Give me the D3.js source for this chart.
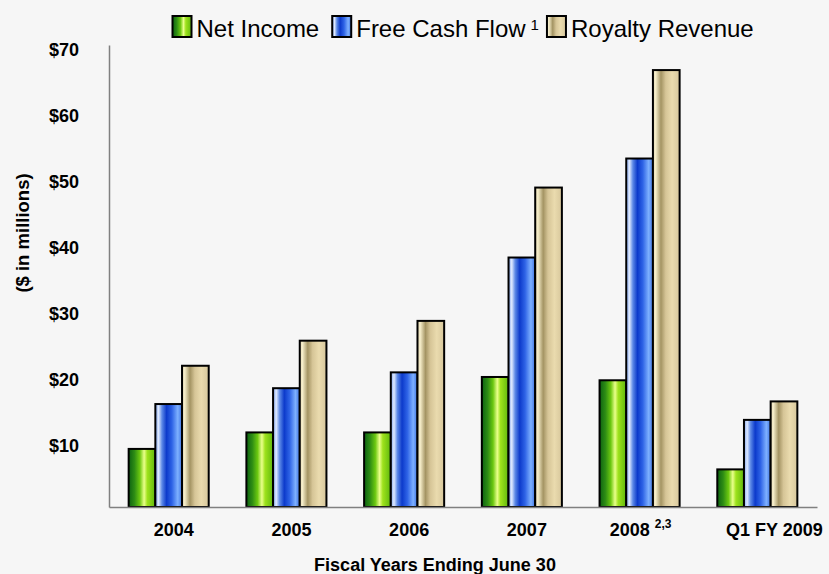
<!DOCTYPE html>
<html>
<head>
<meta charset="utf-8">
<script src="https://cdn.jsdelivr.net/npm/d3@7"></script>
<style>
  html, body { margin: 0; padding: 0; background: #f6f6f6; }
  svg { display: block; font-family: "Liberation Sans", Arial, sans-serif; }
</style>
</head>
<body>
<svg id="chart" width="829" height="574"></svg>
<script>
// dados ($ milhões)
var anos = ["2004", "2005", "2006", "2007", "2008", "Q1 FY 2009"];
var notas = ["", "", "", "", "2,3", ""];
var series = ["Net Income", "Free Cash Flow", "Royalty Revenue"];
var notasSerie = ["", "1", ""];
var netIncome = [8.8, 11.3, 11.3, 19.7, 19.2, 5.7];
var freeCashFlow = [15.6, 18.0, 20.4, 37.8, 52.8, 13.2];
var royaltyRevenue = [21.4, 25.2, 28.2, 48.4, 66.2, 16.0];
var yTicks = [10, 20, 30, 40, 50, 60, 70];

var valores = [netIncome, freeCashFlow, royaltyRevenue];
var dados = anos.map((a, i) => ({ano: a, nota: notas[i], vals: series.map((s, j) => ({serie: s, v: valores[j][i]}))}));

var svg = d3.select("#chart");

// gradientes "cilíndricos" das barras
var grads = {
  "Net Income": [[0, "#0d6212"], [0.22, "#2e8d14"], [0.42, "#6cc810"], [0.58, "#eaff8a"], [0.7, "#9ee21c"], [1, "#5fb80c"]],
  "Free Cash Flow": [[0, "#7ea2ec"], [0.12, "#dfeaff"], [0.25, "#5b88e6"], [0.42, "#0c3acb"], [0.62, "#2e63e6"], [0.84, "#7db0ff"], [1, "#3d72e2"]],
  "Royalty Revenue": [[0, "#e4d8b2"], [0.1, "#f6eecb"], [0.3, "#a49463"], [0.48, "#d6c597"], [0.72, "#eadbae"], [1, "#d7c79c"]]
};
var defs = svg.append("defs");
series.forEach((s, i) => {
  var g = defs.append("linearGradient").attr("id", "g" + i)
    .attr("x1", 0).attr("x2", 1).attr("y1", 0).attr("y2", 0);
  g.selectAll("stop").data(grads[s]).enter().append("stop")
    .attr("offset", d => d[0]).attr("stop-color", d => d[1]);
});

var x0 = d3.scaleBand().domain(anos).range([109, 817]).paddingInner(0.32).paddingOuter(0.167);
var x1 = d3.scaleBand().domain(series).range([0, x0.bandwidth()]);
var y = d3.scaleLinear().domain([0, 70]).range([507, 45]);

// barras
svg.append("g").selectAll("g")
  .data(dados)
  .enter().append("g")
    .attr("transform", d => "translate(" + x0(d.ano) + ",0)")
  .selectAll("rect")
  .data(d => d.vals)
  .enter().append("rect")
    .attr("x", d => x1(d.serie))
    .attr("y", d => y(d.v))
    .attr("width", x1.bandwidth())
    .attr("height", d => y(0) - y(d.v))
    .attr("fill", d => "url(#g" + series.indexOf(d.serie) + ")")
    .attr("stroke", "#000")
    .attr("stroke-width", 2);

// eixo y
var eixoY = svg.append("g").attr("transform", "translate(109,0)")
  .call(d3.axisLeft(y).tickValues(yTicks).tickFormat(d => "$" + d).tickSize(0).tickSizeOuter(0).tickPadding(30));
eixoY.select(".domain").attr("stroke", "#808080").attr("stroke-width", 1.5);
eixoY.selectAll("text")
  .attr("font-family", "'Liberation Sans', Arial, sans-serif")
  .attr("font-size", 18).attr("font-weight", "bold").attr("fill", "#000")
  .attr("y", 5);

// eixo x
var eixoX = svg.append("g").attr("transform", "translate(0,507)")
  .call(d3.axisBottom(x0).tickSize(0).tickSizeOuter(0).tickPadding(16));
eixoX.select(".domain").attr("stroke", "#808080").attr("stroke-width", 1.5);
eixoX.selectAll("text")
  .attr("font-family", "'Liberation Sans', Arial, sans-serif")
  .attr("font-size", 18).attr("font-weight", "bold").attr("fill", "#000")
  .attr("dx", (d, i) => i === anos.length - 1 ? 17 : (notas[i] ? 1 : 5))
  .each(function(d, i) {
    if (notas[i]) {
      var t = d3.select(this);
      t.text(d + " ");
      t.append("tspan").attr("font-size", 12).attr("dy", -8).text(notas[i]);
    }
  });

// títulos dos eixos
svg.append("text")
  .attr("x", 435).attr("y", 571)
  .attr("text-anchor", "middle")
  .attr("font-size", 18).attr("font-weight", "bold")
  .text("Fiscal Years Ending June 30");

svg.append("text")
  .attr("transform", "translate(29,233) rotate(-90)")
  .attr("text-anchor", "middle")
  .attr("font-size", 18.5).attr("font-weight", "bold")
  .text("($ in millions)");

// legenda
var lx = 172.5;
series.forEach((s, i) => {
  svg.append("rect")
    .attr("x", lx).attr("y", 16).attr("width", 19).attr("height", 21)
    .attr("fill", "url(#g" + i + ")").attr("stroke", "#000").attr("stroke-width", 2);
  var t = svg.append("text")
    .attr("x", lx + 24).attr("y", 37)
    .attr("font-size", 24).attr("fill", "#000")
    .text(s);
  lx += 24 + t.node().getComputedTextLength();
  if (notasSerie[i]) {
    var n = svg.append("text")
      .attr("x", lx + 5).attr("y", 30)
      .attr("font-size", 15).attr("fill", "#000")
      .text(notasSerie[i]);
    lx += 5 + n.node().getComputedTextLength() + 8;
  } else {
    lx += 13;
  }
});
</script>
</body>
</html>
